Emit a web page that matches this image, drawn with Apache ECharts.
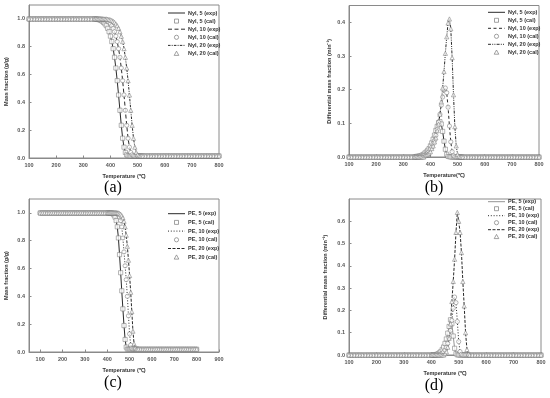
<!DOCTYPE html>
<html><head><meta charset="utf-8">
<script src="https://cdn.jsdelivr.net/npm/echarts@6/dist/echarts.min.js"></script>
<style>html,body{margin:0;padding:0;background:#fff}#c{width:550px;height:398px}</style>
</head><body><div id="c"></div>
<script>
// ---------- DATA ----------
const nylTemp = [100,110,120,130,140,150,160,170,180,190,200,210,220,230,240,250,260,270,280,290,300,310,320,330,340,
 345,350,355,360,365,370,375,380,385,390,395,400,405,410,415,420,425,430,435,440,445,450,455,460,465,470,475,480,485,490,495,500,505,510,515,520,
 530,540,550,560,570,580,590,600,610,620,630,640,650,660,670,680,690,700,710,720,730,740,750,760,770,780,790,800];

const nylMass5 = [1,1,1,1,1,1,1,1,1,1,1,1,1,1,1,1,1,1,1,1,1,1,1,1,1,
 1,0.998,0.996,0.993,0.989,0.983,0.975,0.964,0.951,0.932,0.908,0.876,0.837,0.786,0.724,0.647,0.556,0.453,0.343,0.235,0.142,0.078,0.04,0.023,0.017,0.015,0.015,0.015,0.015,0.015,0.015,0.015,0.015,0.015,0.015,0.015,
 0.015,0.015,0.015,0.015,0.015,0.015,0.015,0.015,0.015,0.015,0.015,0.015,0.015,0.015,0.015,0.015,0.015,0.015,0.015,0.015,0.015,0.015,0.015,0.015,0.015,0.015,0.015,0.015];
const nylMass10 = [1,1,1,1,1,1,1,1,1,1,1,1,1,1,1,1,1,1,1,1,1,1,1,1,1,
 1,1,1,1,1,0.998,0.996,0.993,0.989,0.983,0.975,0.964,0.951,0.932,0.908,0.876,0.837,0.786,0.724,0.647,0.556,0.453,0.343,0.235,0.142,0.078,0.04,0.023,0.017,0.015,0.015,0.015,0.015,0.015,0.015,0.015,
 0.015,0.015,0.015,0.015,0.015,0.015,0.015,0.015,0.015,0.015,0.015,0.015,0.015,0.015,0.015,0.015,0.015,0.015,0.015,0.015,0.015,0.015,0.015,0.015,0.015,0.015,0.015,0.015];
const nylMass20 = [1,1,1,1,1,1,1,1,1,1,1,1,1,1,1,1,1,1,1,1,1,1,1,1,1,
 1,1,1,1,1,1,1,1,1,0.998,0.996,0.993,0.989,0.983,0.975,0.964,0.951,0.932,0.908,0.876,0.837,0.786,0.724,0.647,0.556,0.453,0.343,0.235,0.142,0.078,0.04,0.023,0.017,0.015,0.015,0.015,
 0.015,0.015,0.015,0.015,0.015,0.015,0.015,0.015,0.015,0.015,0.015,0.015,0.015,0.015,0.015,0.015,0.015,0.015,0.015,0.015,0.015,0.015,0.015,0.015,0.015,0.015,0.015,0.015];

const nylDtg5 = [0,0,0,0,0,0,0,0,0,0,0,0,0,0,0,0,0,0,0,0,0,0,0,0,0,
 0.001,0.002,0.002,0.003,0.004,0.006,0.008,0.012,0.015,0.02,0.025,0.033,0.042,0.053,0.065,0.079,0.091,0.102,0.105,0.098,0.076,0.047,0.023,0.008,0.002,0.001,0,0,0,0,0,0,0,0,0,0,
 0,0,0,0,0,0,0,0,0,0,0,0,0,0,0,0,0,0,0,0,0,0,0,0,0,0,0,0];
const nylDtg10 = [0,0,0,0,0,0,0,0,0,0,0,0,0,0,0,0,0,0,0,0,0,0,0,0,0,
 0,0,0,0,0.002,0.003,0.004,0.006,0.008,0.012,0.016,0.023,0.029,0.039,0.049,0.064,0.082,0.103,0.127,0.154,0.178,0.199,0.205,0.191,0.148,0.092,0.045,0.016,0.004,0.001,0,0,0,0,0,0,
 0,0,0,0,0,0,0,0,0,0,0,0,0,0,0,0,0,0,0,0,0,0,0,0,0,0,0,0];
const nylDtg20 = [0,0,0,0,0,0,0,0,0,0,0,0,0,0,0,0,0,0,0,0,0,0,0,0,0,
 0,0,0,0,0,0,0,0.004,0.006,0.008,0.012,0.016,0.025,0.033,0.045,0.057,0.078,0.098,0.127,0.164,0.205,0.254,0.308,0.357,0.398,0.41,0.381,0.295,0.185,0.09,0.033,0.008,0.002,0,0,0,
 0,0,0,0,0,0,0,0,0,0,0,0,0,0,0,0,0,0,0,0,0,0,0,0,0,0,0,0];

const peTemp = [100,110,120,130,140,150,160,170,180,190,200,210,220,230,240,250,260,270,280,290,300,310,320,330,340,350,360,370,380,390,400,
 405,410,415,420,425,430,435,440,445,450,455,460,465,470,475,480,485,490,495,500,505,510,515,520,525,530,535,540,
 550,560,570,580,590,600,610,620,630,640,650,660,670,680,690,700,710,720,730,740,750,760,770,780,790,800];

const peMass5 = [1,1,1,1,1,1,1,1,1,1,1,1,1,1,1,1,1,1,1,1,1,1,1,1,1,1,1,1,1,1,1,
 1,1,1,1,0.995,0.985,0.97,0.945,0.9,0.82,0.7,0.57,0.44,0.31,0.19,0.09,0.035,0.02,0.02,0.02,0.02,0.02,0.02,0.02,0.02,0.02,0.02,0.02,
 0.02,0.02,0.02,0.02,0.02,0.02,0.02,0.02,0.02,0.02,0.02,0.02,0.02,0.02,0.02,0.02,0.02,0.02,0.02,0.02,0.02,0.02,0.02,0.02,0.02,0.02];
const peMass10 = [1,1,1,1,1,1,1,1,1,1,1,1,1,1,1,1,1,1,1,1,1,1,1,1,1,1,1,1,1,1,1,
 1,1,1,1,1,1,1,1,0.995,0.985,0.97,0.945,0.9,0.82,0.72,0.62,0.52,0.4,0.26,0.13,0.05,0.025,0.02,0.02,0.02,0.02,0.02,0.02,
 0.02,0.02,0.02,0.02,0.02,0.02,0.02,0.02,0.02,0.02,0.02,0.02,0.02,0.02,0.02,0.02,0.02,0.02,0.02,0.02,0.02,0.02,0.02,0.02,0.02,0.02];
const peMass20 = [1,1,1,1,1,1,1,1,1,1,1,1,1,1,1,1,1,1,1,1,1,1,1,1,1,1,1,1,1,1,1,
 1,1,1,1,1,1,1,1,1,1,0.995,0.99,0.98,0.965,0.94,0.9,0.84,0.76,0.66,0.55,0.43,0.29,0.15,0.06,0.03,0.02,0.02,0.02,
 0.02,0.02,0.02,0.02,0.02,0.02,0.02,0.02,0.02,0.02,0.02,0.02,0.02,0.02,0.02,0.02,0.02,0.02,0.02,0.02,0.02,0.02,0.02,0.02,0.02,0.02];

const peDtg5 = [0,0,0,0,0,0,0,0,0,0,0,0,0,0,0,0,0,0,0,0,0,0,0,0,0,0,0,0,0,0,0,
 0,0,0,0.003,0.006,0.01,0.016,0.025,0.036,0.052,0.072,0.098,0.128,0.158,0.14,0.085,0.03,0.006,0.001,0,0,0,0,0,0,0,0,0,
 0,0,0,0,0,0,0,0,0,0,0,0,0,0,0,0,0,0,0,0,0,0,0,0,0,0];
const peDtg10 = [0,0,0,0,0,0,0,0,0,0,0,0,0,0,0,0,0,0,0,0,0,0,0,0,0,0,0,0,0,0,0,
 0,0,0,0,0,0,0.004,0.008,0.014,0.022,0.034,0.052,0.077,0.11,0.155,0.21,0.26,0.235,0.15,0.06,0.015,0.003,0,0,0,0,0,0,
 0,0,0,0,0,0,0,0,0,0,0,0,0,0,0,0,0,0,0,0,0,0,0,0,0,0];
const peDtg20 = [0,0,0,0,0,0,0,0,0,0,0,0,0,0,0,0,0,0,0,0,0,0,0,0,0,0,0,0,0,0,0,
 0,0,0,0,0,0,0,0,0,0.006,0.015,0.035,0.075,0.14,0.24,0.33,0.43,0.55,0.64,0.6,0.55,0.46,0.33,0.22,0.1,0.025,0.004,0,
 0,0,0,0,0,0,0,0,0,0,0,0,0,0,0,0,0,0,0,0,0,0,0,0,0,0];

const xTicksPE = [100,200,300,400,500,600,700,800,900];
const nylNames = ['Nyl, 5 (exp)','Nyl, 5 (cal)','Nyl, 10 (exp)','Nyl, 10 (cal)','Nyl, 20 (exp)','Nyl, 20 (cal)'];
const peNames = ['PE, 5 (exp)','PE, 5 (cal)','PE, 10 (exp)','PE, 10 (cal)','PE, 20 (exp)','PE, 20 (cal)'];

// ---------- CHART ----------
const FONT = '"Liberation Sans", Arial, sans-serif';
const chart = echarts.init(document.getElementById('c'), null, {renderer:'canvas'});
function mk(temp, vals){ return temp.map((t,i)=>[t, vals[i]]); }
const MK = {stroke:'#7a7a7a', fill:'#fff'};
function exp(name, gi, temp, vals, dash, color){
  return {type:'line', name, xAxisIndex:gi, yAxisIndex:gi, data:mk(temp,vals), symbol:'none', showSymbol:false,
    lineStyle:{color:color||'#111', width:0.9, type:dash}, z:2, animation:false, silent:true};
}
function cal(name, gi, temp, vals, sym){
  return {type:'scatter', name, xAxisIndex:gi, yAxisIndex:gi, data:mk(temp,vals), symbol:sym, symbolSize:4.2,
    itemStyle:{color:MK.fill, borderColor:MK.stroke, borderWidth:0.7}, z:3, animation:false, silent:true};
}

const gridDefs = [
  {left:29, top:5, width:190, height:153},
  {left:349, top:5.5, width:190, height:151.5},
  {left:29, top:199, width:190, height:153},
  {left:349, top:199, width:192, height:156}
];
const labelStyle = {fontSize:5.5, fontWeight:'bold', color:'#555', fontFamily:FONT};
const nameStyle = {fontSize:5.5, fontWeight:'bold', color:'#333', fontFamily:FONT};
const lineCol = '#8a8a8a';

function xAx(gi, min, max, name, custom){
  const a = {type:'value', gridIndex:gi, min, max, name, nameLocation:'middle', nameGap:15, nameTextStyle:nameStyle,
    axisLine:{show:true, onZero:false, lineStyle:{color:lineCol, width:1}}, splitLine:{show:false},
    axisTick:{show:true, inside:true, length:2.5, lineStyle:{color:lineCol}},
    axisLabel:Object.assign({margin:4, showMaxLabel:true}, labelStyle)};
  if (custom){ a.axisLabel.customValues = custom; a.axisTick.customValues = custom; }
  else a.interval = 100;
  return a;
}
function yAx(gi, max, interval, name, gap){
  return {type:'value', gridIndex:gi, min:0, max, interval, name, nameLocation:'middle', nameGap:gap, nameTextStyle:nameStyle,
    axisLine:{show:true, lineStyle:{color:lineCol, width:1}}, splitLine:{show:false},
    axisTick:{show:true, inside:true, length:2.5, lineStyle:{color:lineCol}},
    axisLabel:Object.assign({margin:4, showMaxLabel:false, formatter:v=>v.toFixed(1)}, labelStyle)};
}

// legend drawn as graphic (icons follow the series styles)
function legendGraphic(x0, y0, dy, list, styles){
  const els = [];
  list.forEach((name, i) => {
    const y = y0 + i*dy, s = styles[i], cx = x0 + 8.5;
    if (s.line){
      els.push({type:'line', silent:true, shape:{x1:x0, y1:y, x2:x0+17, y2:y},
        style:{stroke:s.color||'#111', lineWidth:0.9, lineDash:s.dash||null}});
    } else if (s.sym === 'rect'){
      els.push({type:'rect', silent:true, shape:{x:cx-2, y:y-2, width:4, height:4}, style:{stroke:MK.stroke, fill:MK.fill, lineWidth:0.7}});
    } else if (s.sym === 'circle'){
      els.push({type:'circle', silent:true, shape:{cx, cy:y, r:2.1}, style:{stroke:MK.stroke, fill:MK.fill, lineWidth:0.7}});
    } else {
      els.push({type:'polygon', silent:true, shape:{points:[[cx,y-2.3],[cx+2.3,y+1.9],[cx-2.3,y+1.9]]}, style:{stroke:MK.stroke, fill:MK.fill, lineWidth:0.7}});
    }
    els.push({type:'text', silent:true, x:x0+20, y, style:{text:name, font:'bold 5.5px '+FONT, fill:'#333', verticalAlign:'middle', align:'left'}});
  });
  return els;
}
const stA = [{line:1},{sym:'rect'},{line:1,dash:[4,2.5]},{sym:'circle'},{line:1,dash:[2.5,1.2,1,1.2]},{sym:'tri'}];
const stB = [{line:1},{sym:'rect'},{line:1,dash:[3,2.5]},{sym:'circle'},{line:1,dash:[3,1.2,1,1.2,1,1.2]},{sym:'tri'}];
const stC = [{line:1},{sym:'rect'},{line:1,dash:[1,1.8]},{sym:'circle'},{line:1,dash:[3,1.5]},{sym:'tri'}];
const stD = [{line:1,color:'#888'},{sym:'rect'},{line:1,dash:[1,1.8]},{sym:'circle'},{line:1,dash:[3,1.5]},{sym:'tri'}];

const letterFont = '16px "Liberation Serif", "DejaVu Serif", serif';
const letters = [['(a)',113,188],['(b)',434,188],['(c)',113,383],['(d)',434,386]].map(l =>
  ({type:'text', silent:true, x:l[1], y:l[2], style:{text:l[0], font:letterFont, fill:'#000', align:'center', verticalAlign:'middle'}}));

const option = {
  backgroundColor:'#fff',
  animation:false,
  grid: gridDefs.map(g => Object.assign({show:true, borderColor:lineCol, borderWidth:1, containLabel:false}, g)),
  xAxis:[
    xAx(0,100,800,'Temperature (\u2103)'),
    xAx(1,100,800,'Temperature(\u2103)'),
    xAx(2,50,900,'Temperature (\u2103)', xTicksPE),
    xAx(3,100,800,'Temperature (\u2103)')
  ],
  yAxis:[
    yAx(0,1.1,0.2,'Mass fraction (g/g)',20),
    yAx(1,0.45,0.1,'Differential mass fraction (min\u207B\u00B9)',17),
    yAx(2,1.1,0.2,'Mass fraction (g/g)',20),
    yAx(3,0.7,0.1,'Differential mass fraction (min\u207B\u00B9)',21)
  ],
  series:[
    exp(nylNames[0],0,nylTemp,nylMass5,'solid'),
    cal(nylNames[1],0,nylTemp,nylMass5,'rect'),
    exp(nylNames[2],0,nylTemp,nylMass10,stA[2].dash),
    cal(nylNames[3],0,nylTemp,nylMass10,'circle'),
    exp(nylNames[4],0,nylTemp,nylMass20,stA[4].dash),
    cal(nylNames[5],0,nylTemp,nylMass20,'triangle'),

    exp(nylNames[0],1,nylTemp,nylDtg5,'solid'),
    cal(nylNames[1],1,nylTemp,nylDtg5,'rect'),
    exp(nylNames[2],1,nylTemp,nylDtg10,stB[2].dash),
    cal(nylNames[3],1,nylTemp,nylDtg10,'circle'),
    exp(nylNames[4],1,nylTemp,nylDtg20,stB[4].dash),
    cal(nylNames[5],1,nylTemp,nylDtg20,'triangle'),

    exp(peNames[0],2,peTemp,peMass5,'solid'),
    cal(peNames[1],2,peTemp,peMass5,'rect'),
    exp(peNames[2],2,peTemp,peMass10,stC[2].dash),
    cal(peNames[3],2,peTemp,peMass10,'circle'),
    exp(peNames[4],2,peTemp,peMass20,stC[4].dash),
    cal(peNames[5],2,peTemp,peMass20,'triangle'),

    exp(peNames[0],3,peTemp,peDtg5,'solid','#888'),
    cal(peNames[1],3,peTemp,peDtg5,'rect'),
    exp(peNames[2],3,peTemp,peDtg10,stD[2].dash),
    cal(peNames[3],3,peTemp,peDtg10,'circle'),
    exp(peNames[4],3,peTemp,peDtg20,stD[4].dash),
    cal(peNames[5],3,peTemp,peDtg20,'triangle')
  ],
  graphic: [].concat(
    legendGraphic(168, 13, 8.1, nylNames, stA),
    legendGraphic(488, 12.3, 8, nylNames, stB),
    legendGraphic(168, 213.7, 8.7, peNames, stC),
    legendGraphic(488, 201.7, 7, peNames, stD),
    letters)
};
chart.setOption(option);
</script>
</body></html>
